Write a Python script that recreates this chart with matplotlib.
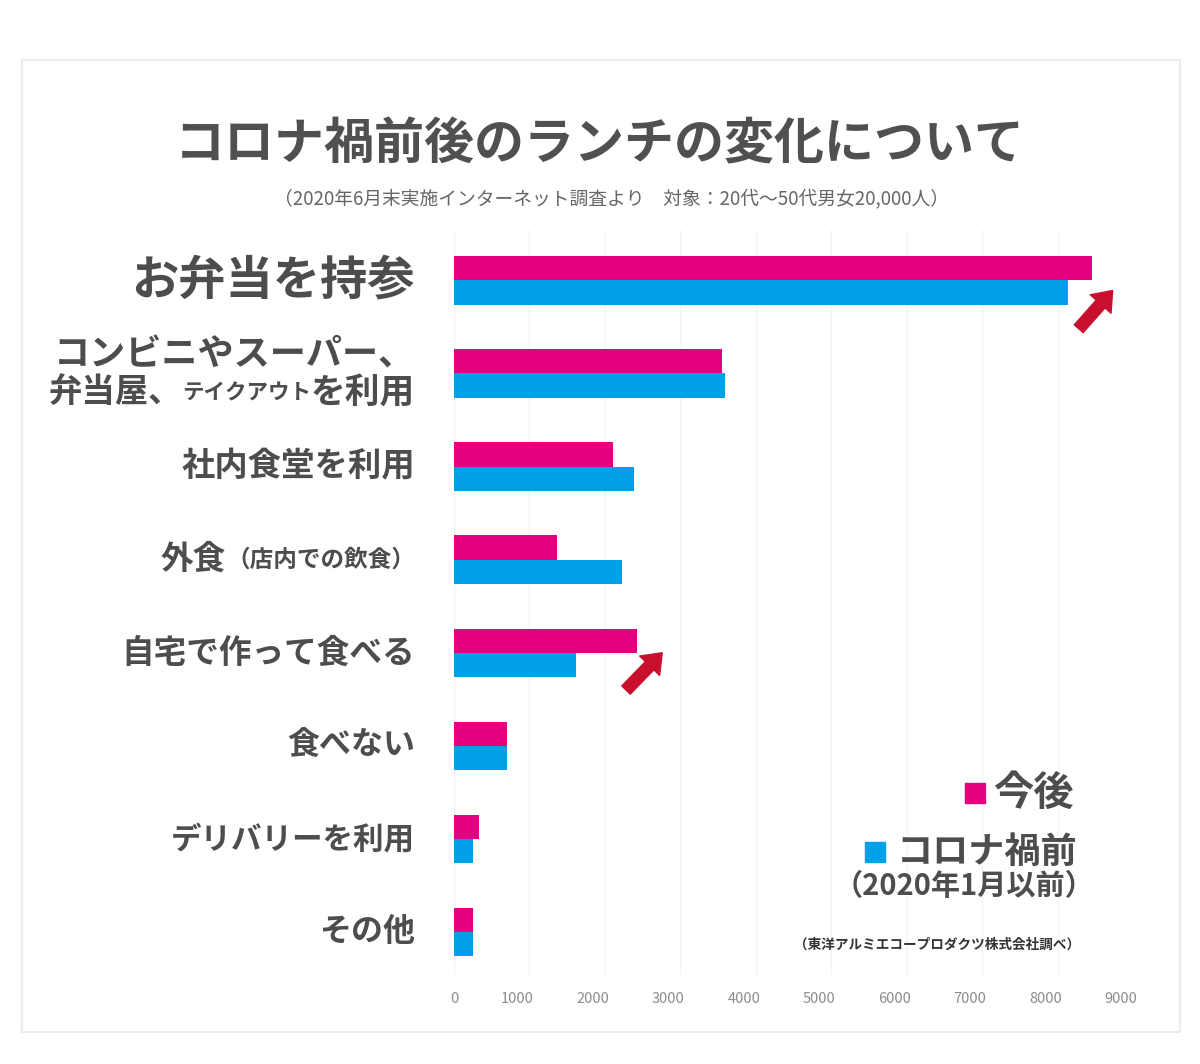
import matplotlib
matplotlib.use("Agg")
import matplotlib.pyplot as plt
import matplotlib.transforms as mtransforms
from matplotlib.patches import Rectangle

plt.rcParams['font.family'] = ['Noto Sans CJK JP', 'DejaVu Sans']

# data
categories = ['お弁当を持参', 'コンビニやスーパー、弁当屋、テイクアウトを利用', '社内食堂を利用',
              '外食（店内での飲食）', '自宅で作って食べる', '食べない', 'デリバリーを利用', 'その他']
after = [8450, 3550, 2110, 1370, 2430, 700, 330, 250]     # 今後
before = [8140, 3590, 2390, 2230, 1620, 700, 250, 250]    # コロナ禍前
xticks = [0, 1000, 2000, 3000, 4000, 5000, 6000, 7000, 8000, 9000]

PINK = '#e4007f'
BLUE = '#00a0e9'
TEXT = '#4d4d4d'
ARROW = '#c8102e'

W, H = 1200, 1064
fig = plt.figure(figsize=(W / 100, H / 100), dpi=100)
fig.patch.set_facecolor('white')


def fx(px):
    return px / W


def fy(py):
    return 1 - py / H


# faint outer frame
fig.patches.append(Rectangle((fx(22), fy(1032)), fx(1180) - fx(22), fy(60) - fy(1032),
                             transform=fig.transFigure, fill=False, ec='#ececec', lw=1.5))

ax = fig.add_axes([fx(454), fy(975), (1133 - 454) / W, (975 - 230) / H])
y = list(range(len(categories)))
bh = 0.26
ax.barh([v - bh / 2 for v in y], after, height=bh, color=PINK, zorder=3)
ax.barh([v + bh / 2 for v in y], before, height=bh, color=BLUE, zorder=3)
ax.set_xlim(0, 9000)
ax.set_ylim(len(categories) - 0.54, -0.54)
for s in ax.spines.values():
    s.set_visible(False)
ax.set_yticks([])
ax.set_xticks(xticks)
ax.set_xticklabels([str(t) for t in xticks])
ax.tick_params(axis='x', length=0, pad=12, labelsize=10.5, labelcolor='#8c8c8c')
shift = mtransforms.ScaledTranslation(-12 / 100, 0, fig.dpi_scale_trans)
for lab in ax.get_xticklabels()[1:]:
    lab.set_transform(lab.get_transform() + shift)
ax.grid(axis='x', color='#f3f3f3', lw=1, zorder=0)


# category labels: pieces (text, size) right-aligned at 39px left of zero
def label(yi, pieces, dy=0):
    off = -28
    for txt, size in reversed(pieces):
        ax.annotate(txt, xy=(0, yi), xytext=(off, dy), textcoords='offset points',
                    ha='right', va='center', fontsize=size, fontweight='bold',
                    color=TEXT, annotation_clip=False)
        off -= len(txt) * size


label(0, [('お弁当を持参', 34)])
label(1, [('コンビニやスーパー、', 26)], dy=13)
label(1, [('弁当屋、', 24), ('テイクアウト', 15.5), ('を利用', 25)], dy=-14)
label(2, [('社内食堂を利用', 24)])
label(3, [('外食', 23.5), ('（店内での飲食）', 17)])
label(4, [('自宅で作って食べる', 23.5)])
label(5, [('食べない', 23)])
label(6, [('デリバリーを利用', 22)])
label(7, [('その他', 23)])

# red arrows marking increases
arrow = dict(arrowstyle='simple,head_length=13,head_width=20,tail_width=8.5',
             mutation_scale=1, color=ARROW, shrinkA=0, shrinkB=0)
ax.annotate('', xy=(after[0] + 280, 0.11), xytext=(after[0] - 170, 0.52),
            arrowprops=arrow, annotation_clip=False)
ax.annotate('', xy=(after[4] + 330, 4.0), xytext=(after[4] - 150, 4.40),
            arrowprops=arrow, annotation_clip=False)

# titles
fig.text(0.5, fy(145), 'コロナ禍前後のランチの変化について', ha='center', va='center',
         fontsize=36, fontweight='bold', color='#505050')
fig.text(fx(611), fy(199), '（2020年6月末実施インターネット調査より　対象：20代～50代男女20,000人）',
         ha='center', va='center', fontsize=13.5, color='#666666')

# legend
fig.patches.append(Rectangle((fx(965), fy(803)), 20 / W, 20 / H, transform=fig.transFigure,
                             color=PINK))
fig.text(fx(993), fy(793), '今後', ha='left', va='center', fontsize=29,
         fontweight='bold', color=TEXT)
fig.patches.append(Rectangle((fx(865), fy(862)), 20 / W, 20 / H, transform=fig.transFigure,
                             color=BLUE))
fig.text(fx(1077), fy(852), 'コロナ禍前', ha='right', va='center', fontsize=26,
         fontweight='bold', color=TEXT)
fig.text(fx(1094), fy(886), '（2020年1月以前）', ha='right', va='center', fontsize=21,
         fontweight='bold', color=TEXT)
fig.text(fx(1080), fy(945), '（東洋アルミエコープロダクツ株式会社調べ）', ha='right', va='center',
         fontsize=9.8, fontweight='bold', color='#333333')

fig.savefig('out.png', dpi=100)
